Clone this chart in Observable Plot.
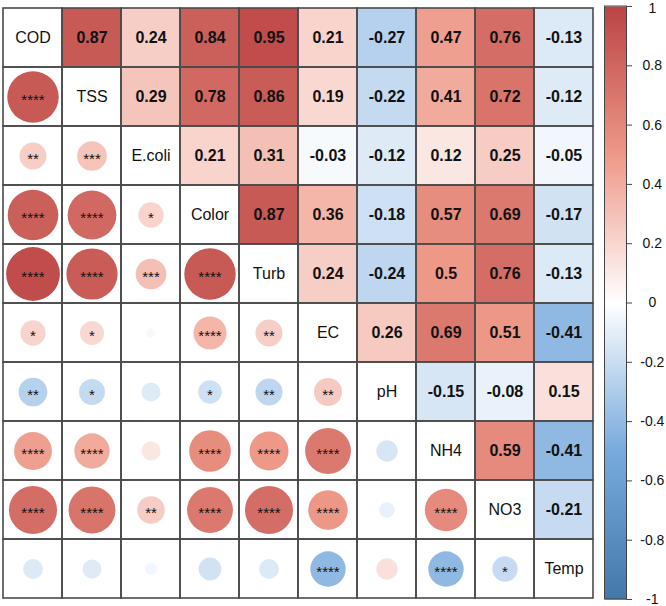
<!DOCTYPE html>
<html>
<head>
<meta charset="utf-8">
<script src="https://cdn.jsdelivr.net/npm/d3@7"></script>
<script src="https://cdn.jsdelivr.net/npm/@observablehq/plot@0.6"></script>
<style>
  html, body { margin: 0; padding: 0; background: #fff; }
  #wrap { position: relative; width: 666px; height: 606px; font-family: "Liberation Sans", Arial, sans-serif; }
  #main { position: absolute; left: 0; top: 0; }
  #bar { position: absolute; left: 600px; top: 0; }
</style>
</head>
<body>
<div id="wrap"><div id="main"></div><div id="bar"></div></div>
<script>
const vars = ["COD", "TSS", "E.coli", "Color", "Turb", "EC", "pH", "NH4", "NO3", "Temp"];

// Upper-triangle correlations, row by row (columns to the right of the diagonal)
const corrCOD   = [0.87, 0.24, 0.84, 0.95, 0.21, -0.27, 0.47, 0.76, -0.13];
const corrTSS   = [0.29, 0.78, 0.86, 0.19, -0.22, 0.41, 0.72, -0.12];
const corrEcoli = [0.21, 0.31, -0.03, -0.12, 0.12, 0.25, -0.05];
const corrColor = [0.87, 0.36, -0.18, 0.57, 0.69, -0.17];
const corrTurb  = [0.24, -0.24, 0.5, 0.76, -0.13];
const corrEC    = [0.26, 0.69, 0.51, -0.41];
const corrPH    = [-0.15, -0.08, 0.15];
const corrNH4   = [0.59, -0.41];
const corrNO3   = [-0.21];
const upperRows = [corrCOD, corrTSS, corrEcoli, corrColor, corrTurb, corrEC, corrPH, corrNH4, corrNO3, []];

// Lower-triangle significance stars, row by row (columns left of the diagonal)
const starsCOD   = [];
const starsTSS   = ["****"];
const starsEcoli = ["**", "***"];
const starsColor = ["****", "****", "*"];
const starsTurb  = ["****", "****", "***", "****"];
const starsEC    = ["*", "*", "", "****", "**"];
const starsPH    = ["**", "*", "", "*", "**", "**"];
const starsNH4   = ["****", "****", "", "****", "****", "****", ""];
const starsNO3   = ["****", "****", "**", "****", "****", "****", "", "****"];
const starsTemp  = ["", "", "", "", "", "****", "", "****", "*"];
const lowerRows = [starsCOD, starsTSS, starsEcoli, starsColor, starsTurb, starsEC, starsPH, starsNH4, starsNO3, starsTemp];

const barTicks = [1, 0.8, 0.6, 0.4, 0.2, 0, -0.2, -0.4, -0.6, -0.8, -1];

// Build tables
const upper = [], lower = [], diag = [], all = [];
vars.forEach((rv, i) => {
  vars.forEach((cv, j) => all.push({row: rv, col: cv}));
  diag.push({row: rv, col: rv, name: rv});
  upperRows[i].forEach((v, k) => {
    const j = i + 1 + k;
    upper.push({row: rv, col: vars[j], value: v});
    lower.push({row: vars[j], col: rv, value: v, stars: lowerRows[j][i]});
  });
});

const colorScale = {
  type: "linear",
  domain: [-1, -0.5, 0, 0.5, 1],
  range: ["#4477AA", "#77AADD", "#FFFFFF", "#EE9988", "#BB4444"],
  interpolate: "rgb"
};

const font = '"Liberation Sans", Arial, sans-serif';

const main = Plot.plot({
  width: 600,
  height: 606,
  margin: 0,
  style: {fontFamily: font, background: "transparent"},
  x: {type: "band", domain: vars, range: [0.5, 594.5], padding: 0, axis: null},
  y: {type: "band", domain: vars, range: [6, 599.5], padding: 0, axis: null},
  color: colorScale,
  r: {type: "sqrt", domain: [0, 1], range: [0, 27.6]},
  marks: [
    Plot.cell(upper, {x: "col", y: "row", fill: "value"}),
    Plot.dot(lower, {x: "col", y: "row", r: d => Math.abs(d.value), fill: "value", stroke: "none"}),
    Plot.cell(all, {x: "col", y: "row", fill: "none", stroke: "#4a4a4a", strokeWidth: 1.6}),
    Plot.text(upper, {x: "col", y: "row", text: d => String(d.value), fontWeight: "bold", fontSize: 16, fill: "#111"}),
    Plot.text(diag, {x: "col", y: "row", text: "name", fontSize: 16, fill: "#111"}),
    Plot.text(lower, {x: "col", y: "row", text: "stars", fontSize: 15, dy: 3.5, fill: "#111"})
  ]
});
document.getElementById("main").appendChild(main);

const bar = Plot.plot({
  width: 66,
  height: 606,
  margin: 0,
  style: {fontFamily: font, background: "transparent"},
  x: {domain: [0, 1], range: [4.5, 26.5], axis: null},
  y: {domain: [-1, 1], range: [599, 6], axis: null},
  color: colorScale,
  marks: [
    Plot.raster({x1: 0, x2: 1, y1: -1, y2: 1, width: 2, height: 400, fill: (x, y) => y, imageRendering: "auto"}),
    Plot.rect([{x1: 0, x2: 1, y1: -1, y2: 1}], {x1: "x1", x2: "x2", y1: "y1", y2: "y2", fill: "none", stroke: "#444", strokeWidth: 1}),
    Plot.ruleY(barTicks, {y: d => d, x1: 1, x2: 1.25, stroke: "#444", strokeWidth: 1}),
    Plot.text(barTicks.filter(d => d !== 1), {y: d => d, x: 2.15, text: d => String(d), fontSize: 14, fill: "#111", textAnchor: "middle"}),
    Plot.text(barTicks.filter(d => d === 1), {y: d => d, x: 2.15, text: d => String(d), fontSize: 14, fill: "#111", textAnchor: "middle", dy: 2})
  ]
});
document.getElementById("bar").appendChild(bar);
</script>
</body>
</html>
